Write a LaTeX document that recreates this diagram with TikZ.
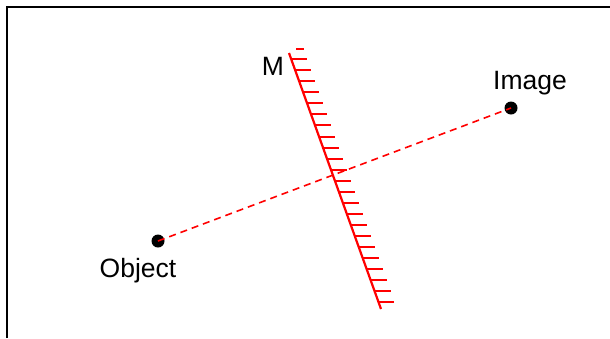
\documentclass[tikz,border=0pt]{standalone}
\usepackage{fontspec}
\setmainfont{Liberation Sans}
\usetikzlibrary{calc}
\begin{document}
\begin{tikzpicture}[x=1pt,y=-1pt,
  frame/.style={line width=2pt,black},
  mirrorline/.style={line width=2.2pt,red},
  hatchline/.style={line width=2pt,red},
  ray/.style={line width=1.6pt,red,dash pattern=on 7pt off 5pt},
  dot/.style={circle,fill=black,inner sep=0pt,minimum size=13pt},
  lbl/.style={font=\fontsize{26.5}{32}\selectfont,anchor=base,inner sep=0pt}]
\useasboundingbox (0,0) rectangle (610,338);
\draw[frame] (7,338) -- (7,7) -- (610,7);
% mirror
\coordinate (mtop) at (289,53);
\coordinate (mbot) at (381,309);
\draw[mirrorline] (mtop) -- (mbot);
\foreach \k in {0,...,22}{
  \pgfmathsetmacro\tt{(6.3+11.03*\k)/256}
  \draw[hatchline] ($(mtop)!\tt!(mbot)$) -- ++(16,0);
}
\draw[hatchline] (296,49) -- (304,49);
\node[lbl] (mlabel) at (273,75) {M};
% object and image
\node[dot] (obj) at (158,241) {};
\node[dot] (img) at (511,108) {};
\draw[ray] (obj.center) -- (img.center);
\node[lbl] (objlabel) at (138,277) {Object};
\node[lbl] (imglabel) at (530,89) {Image};
\end{tikzpicture}
\end{document}
